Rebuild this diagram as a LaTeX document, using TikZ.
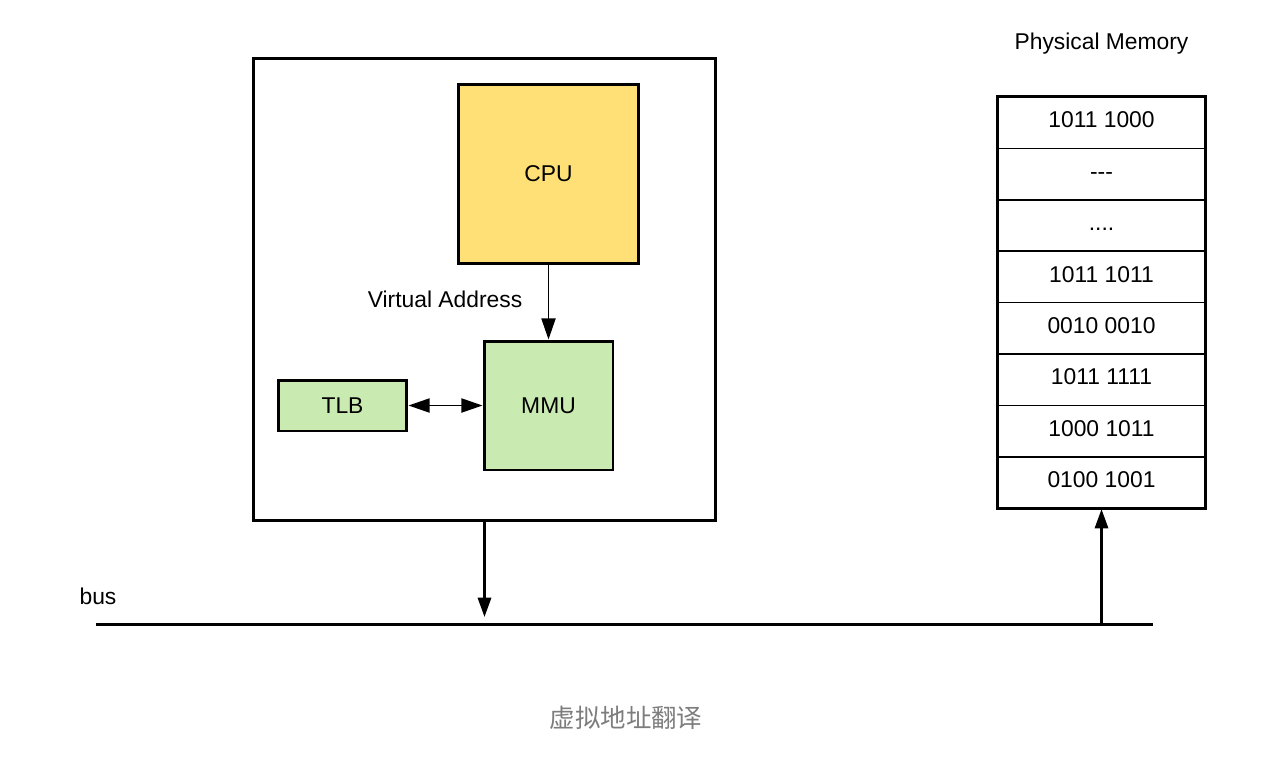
\documentclass[tikz,border=0pt]{standalone}
\usepackage{fontspec}
\setmainfont{Liberation Sans}
\newfontfamily\cjk{Noto Sans CJK SC}
\usetikzlibrary{positioning,arrows.meta}
\definecolor{cpuyellow}{RGB}{254,224,118}
\definecolor{mmugreen}{RGB}{201,234,176}
\definecolor{captiongray}{RGB}{125,125,125}

\begin{document}
\begin{tikzpicture}[x=0.02cm, y=-0.02cm,
        unit/.style={draw, line width=1.7pt, font=\fontsize{13}{15}\selectfont, inner sep=0pt},
        cell/.style={draw, line width=1pt, minimum width=4.14cm, minimum height=1.028cm, inner sep=0pt, font=\fontsize{13}{15}\selectfont},
        link/.style={-{Triangle[length=11pt, width=7.5pt]}, line width=1.5pt},
        thinlink/.style={-{Triangle[length=12pt, width=8pt]}, line width=1pt}]
        \useasboundingbox (0,0) rectangle (1288,758);

        % chip
        \node[unit, minimum width=9.26cm, minimum height=9.26cm] (chip) at (484.5,289.5) {};
        \node[unit, fill=cpuyellow, minimum width=3.62cm, minimum height=3.6cm] (cpu) at (548.5,174) {CPU};
        \node[unit, fill=mmugreen, minimum width=2.58cm, minimum height=2.58cm] (mmu) at (548.5,405.5) {MMU};
        \node[unit, fill=mmugreen, minimum width=2.58cm, minimum height=1.02cm] (tlb) at (342.5,405.5) {TLB};
        \node[font=\fontsize{13}{15}\selectfont] (va) at (445,299) {Virtual Address};

        \draw[thinlink] (cpu) -- (mmu);
        \draw[thinlink, {Triangle[length=12pt, width=8pt]}-{Triangle[length=12pt, width=8pt]}] (tlb) -- (mmu);

        % memory
        \node[font=\fontsize{13}{15}\selectfont] (pm) at (1101.5,44) {Physical Memory};
        \foreach \i/\val in {1/{1011 1000}, 2/{{-}{-}{-}}, 3/{{.}{.}{.}{.}}, 4/{1011 1011}, 5/{0010 0010}, 6/{1011 1111}, 7/{1000 1011}, 8/{0100 1001}}
            \node[cell] (cell\i) at (1101.5,{71.3+51.4*\i}) {\strut\val};
        \draw[line width=1.6pt] (cell1.north west) rectangle (cell8.south east);

        % bus
        \node[font=\fontsize{13}{15}\selectfont] (bus) at (98,596) {bus};
        \coordinate (busL) at (96,624);
        \coordinate (busR) at (1153,624);
        \coordinate (busA) at (484.5,617);
        \coordinate (busB) at (1101.5,624);
        \draw[line width=1.7pt] (busL) -- (busR);
        \draw[link] (chip) -- (busA);
        \draw[link] (busB) -- (cell8);

        \node[font=\cjk\fontsize{14.5}{16}\selectfont, text=captiongray] (caption) at (626,718) {虚拟地址翻译};
    \end{tikzpicture}
\end{document}
